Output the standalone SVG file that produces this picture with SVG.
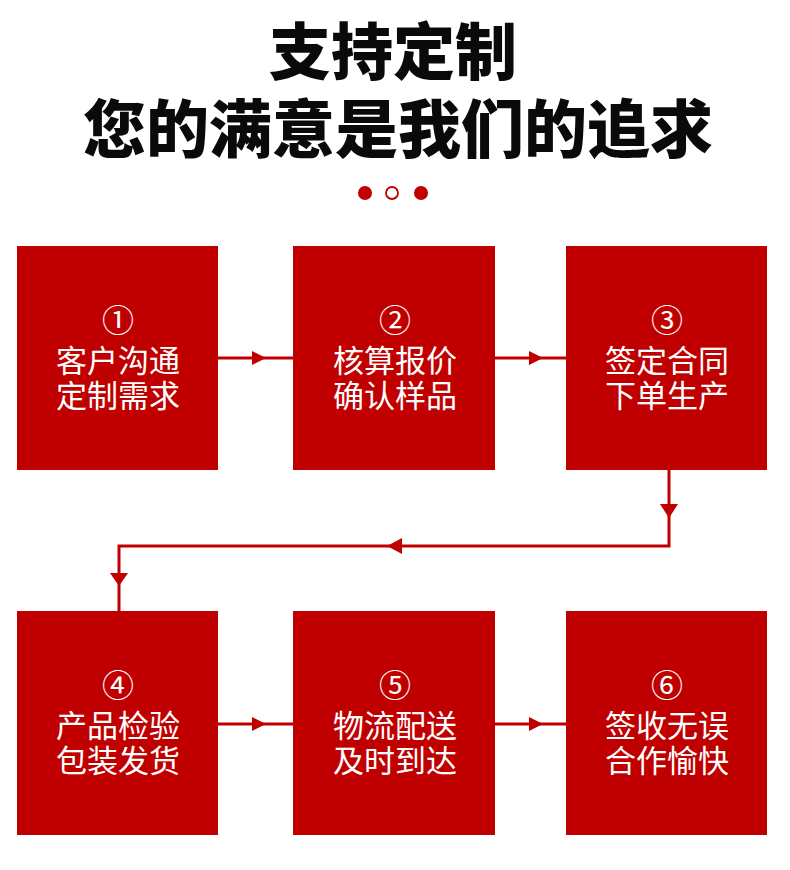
<svg xmlns="http://www.w3.org/2000/svg" width="790" height="870" viewBox="0 0 790 870">
  <style>
    .title { font-family: "Liberation Sans", "Noto Sans CJK SC", sans-serif; font-weight: 900; fill: #0a0a0a; text-anchor: middle; }
    .box { fill: #c00000; }
    .lbl { font-family: "Liberation Sans", "Noto Sans CJK SC", sans-serif; font-size: 31px; fill: #ffffff; text-anchor: middle; }
    .num { font-size: 32px; }
    .line { stroke: #c00000; stroke-width: 3; fill: none; }
    .head { fill: #c00000; }
  </style>
  <rect x="0" y="0" width="790" height="870" fill="#ffffff"/>

  <g id="title">
    <text class="title" x="393" y="75" font-size="62">支持定制</text>
    <text class="title" x="398" y="152" font-size="63">您的满意是我们的追求</text>
  </g>

  <g id="dots">
    <circle cx="365" cy="193" r="7" fill="#c00000"/>
    <circle cx="392" cy="193" r="6" fill="#ffffff" stroke="#c00000" stroke-width="1.8"/>
    <circle cx="421" cy="193" r="7" fill="#c00000"/>
  </g>

  <g id="connectors">
    <line class="line" x1="218" y1="358" x2="293" y2="358"/>
    <polygon class="head" points="252,351 266,358 252,365"/>
    <line class="line" x1="495" y1="358" x2="566" y2="358"/>
    <polygon class="head" points="529,351 543,358 529,365"/>
    <polyline class="line" points="669,470 669,546 119,546 119,611"/>
    <polygon class="head" points="660,504 678,504 669,518"/>
    <polygon class="head" points="402,538 402,554 387,546"/>
    <polygon class="head" points="110,573 128,573 119,586"/>
    <line class="line" x1="218" y1="724" x2="293" y2="724"/>
    <polygon class="head" points="252,717 266,724 252,731"/>
    <line class="line" x1="495" y1="724" x2="566" y2="724"/>
    <polygon class="head" points="529,717 543,724 529,731"/>
  </g>

  <g id="step1">
    <rect class="box" x="17" y="246" width="201" height="224"/>
    <text class="lbl"><tspan class="num" x="118" y="332">①</tspan><tspan x="118" y="372">客户沟通</tspan><tspan x="118" y="407">定制需求</tspan></text>
  </g>
  <g id="step2">
    <rect class="box" x="293" y="246" width="202" height="224"/>
    <text class="lbl"><tspan class="num" x="395" y="332">②</tspan><tspan x="395" y="372">核算报价</tspan><tspan x="395" y="407">确认样品</tspan></text>
  </g>
  <g id="step3">
    <rect class="box" x="566" y="246" width="201" height="224"/>
    <text class="lbl"><tspan class="num" x="667" y="332">③</tspan><tspan x="667" y="372">签定合同</tspan><tspan x="667" y="407">下单生产</tspan></text>
  </g>
  <g id="step4">
    <rect class="box" x="17" y="611" width="201" height="224"/>
    <text class="lbl"><tspan class="num" x="118" y="697">④</tspan><tspan x="118" y="737">产品检验</tspan><tspan x="118" y="772">包装发货</tspan></text>
  </g>
  <g id="step5">
    <rect class="box" x="293" y="611" width="202" height="224"/>
    <text class="lbl"><tspan class="num" x="395" y="697">⑤</tspan><tspan x="395" y="737">物流配送</tspan><tspan x="395" y="772">及时到达</tspan></text>
  </g>
  <g id="step6">
    <rect class="box" x="566" y="611" width="201" height="224"/>
    <text class="lbl"><tspan class="num" x="667" y="697">⑥</tspan><tspan x="667" y="737">签收无误</tspan><tspan x="667" y="772">合作愉快</tspan></text>
  </g>
</svg>
